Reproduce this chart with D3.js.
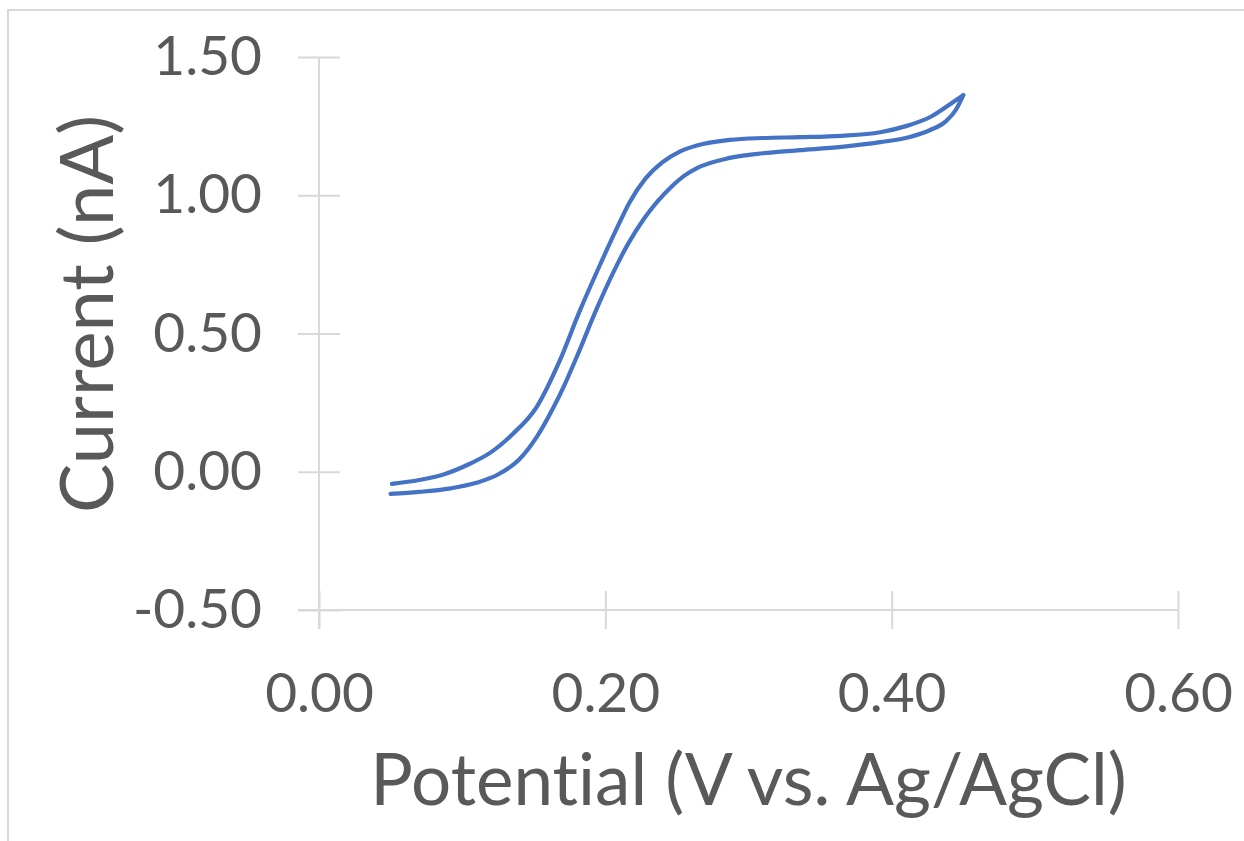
<!DOCTYPE html>
<html>
<head>
<meta charset="utf-8">
<script src="https://cdn.jsdelivr.net/npm/d3@7.9.0/dist/d3.min.js"></script>
<style>
  html, body { margin: 0; padding: 0; background: #fff; }
  svg { display: block; }
  text { font-variant-ligatures: none; }
  .axis text { fill: #595959; font-family: Lato, "Open Sans", sans-serif; }
  .axis path, .axis line { stroke: #d9d9d9; stroke-width: 2; }
  .title { fill: #595959; font-family: Lato, "Open Sans", sans-serif; }
</style>
</head>
<body>
<div id="chart"></div>
<script>
// forward scan (lower branch), potential in V, current in nA
const forwardV = [0.050, 0.070, 0.092, 0.110, 0.125, 0.140, 0.152, 0.163, 0.172, 0.180, 0.194, 0.205, 0.216, 0.227, 0.236, 0.246, 0.255, 0.264, 0.287, 0.310, 0.336, 0.365, 0.392, 0.412, 0.427, 0.438, 0.445, 0.450];
const forwardI = [-0.080, -0.073, -0.060, -0.040, -0.010, 0.045, 0.125, 0.225, 0.320, 0.415, 0.590, 0.715, 0.825, 0.915, 0.975, 1.030, 1.070, 1.098, 1.135, 1.152, 1.163, 1.175, 1.192, 1.210, 1.236, 1.268, 1.310, 1.362];

// reverse scan (upper branch)
const reverseV = [0.450, 0.443, 0.427, 0.410, 0.392, 0.365, 0.336, 0.310, 0.287, 0.264, 0.252, 0.240, 0.228, 0.217, 0.208, 0.196, 0.182, 0.168, 0.152, 0.135, 0.120, 0.105, 0.088, 0.070, 0.051];
const reverseI = [1.362, 1.337, 1.283, 1.250, 1.228, 1.215, 1.210, 1.207, 1.200, 1.180, 1.158, 1.120, 1.060, 0.975, 0.880, 0.745, 0.580, 0.400, 0.234, 0.135, 0.070, 0.028, -0.008, -0.030, -0.044];

const xTicks = [0, 0.2, 0.4, 0.6];
const yTicks = [-0.5, 0, 0.5, 1.0, 1.5];

const width = 1244;
const height = 841;
const plot = { left: 319, right: 1178, top: 57, bottom: 610 };

const svg = d3.select('#chart')
    .append('svg')
    .attr('width', width)
    .attr('height', height);

// chart frame
svg.append('rect')
    .attr('x', 8)
    .attr('y', 10)
    .attr('width', 1300)
    .attr('height', 900)
    .attr('fill', 'none')
    .attr('stroke', '#d9d9d9')
    .attr('stroke-width', 2);

const xScale = d3.scaleLinear().domain([0, 0.6]).range([plot.left, plot.right]);
const yScale = d3.scaleLinear().domain([-0.5, 1.5]).range([plot.bottom, plot.top]);
const fmt = (d) => d.toFixed(2);

// x axis, ticks cross the line
const xAxis = svg.append('g')
    .attr('class', 'axis')
    .attr('transform', `translate(0, ${yScale(-0.5)})`)
    .call(d3.axisBottom(xScale).tickValues(xTicks).tickFormat(fmt).tickSizeOuter(0).tickSize(19).tickPadding(44));
xAxis.select('.domain').attr('d', `M${plot.left - 21},0H${plot.right}`);
xAxis.selectAll('.tick line').attr('y1', -19).attr('y2', 19);
xAxis.selectAll('.tick text').attr('font-size', 55);

// y axis
const yAxis = svg.append('g')
    .attr('class', 'axis')
    .attr('transform', `translate(${xScale(0)}, 0)`)
    .call(d3.axisLeft(yScale).tickValues(yTicks).tickFormat(fmt).tickSizeOuter(0).tickSize(21).tickPadding(36));
yAxis.select('.domain').attr('d', `M0,${plot.top}V${plot.bottom + 19}`);
yAxis.selectAll('.tick line').attr('x1', -21).attr('x2', 21);
yAxis.selectAll('.tick text').attr('font-size', 55);

// the two scan branches
const line = d3.line()
    .x((d) => xScale(d[0]))
    .y((d) => yScale(d[1]))
    .curve(d3.curveMonotoneX);

const branches = [
    forwardV.map((v, i) => [v, forwardI[i]]),
    reverseV.map((v, i) => [v, reverseI[i]]).reverse(),
];

svg.append('g')
    .selectAll('path')
    .data(branches)
    .join('path')
    .attr('d', line)
    .attr('fill', 'none')
    .attr('stroke', '#4472c4')
    .attr('stroke-width', 4.2)
    .attr('stroke-linejoin', 'round')
    .attr('stroke-linecap', 'round');

// axis titles
svg.append('text')
    .attr('class', 'title')
    .attr('x', (plot.left + plot.right) / 2)
    .attr('y', 805)
    .attr('text-anchor', 'middle')
    .attr('font-size', 71)
    .text('Potential (V vs. Ag/AgCl)');

svg.append('text')
    .attr('class', 'title')
    .attr('transform', `translate(113, 314) rotate(-90)`)
    .attr('text-anchor', 'middle')
    .attr('font-size', 74)
    .text('Current (nA)');
</script>
</body>
</html>
